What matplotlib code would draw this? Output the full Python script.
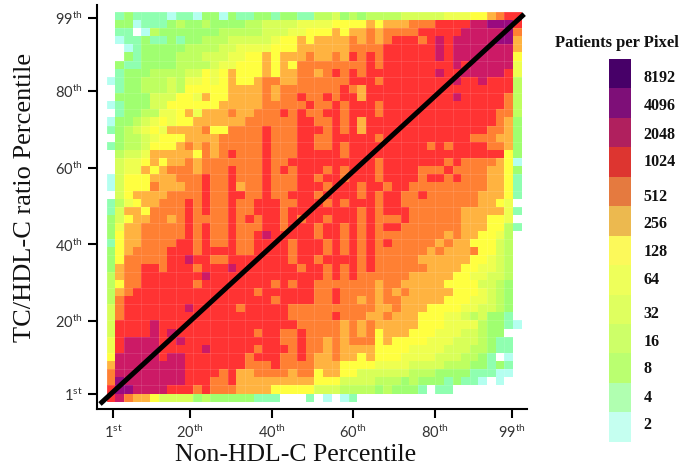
import numpy as np
import matplotlib
matplotlib.use("Agg")
import matplotlib.pyplot as plt
from matplotlib.colors import ListedColormap

plt.rcParams['mathtext.default'] = 'regular'

# one char per cell, top row first: . = empty, 1 = 2 patients ... d = 8192 patients
cell_rows = [
    ".2322221 22133132 23323322 44534344 44555556 667789aa",
    ".3312223 43343333 44555566 66777787 888999aa aabbccca",
    ".22.1433 33333444 44555667 77878898 9999aaaa abbbbbc9",
    ".1223223 23344455 55567787 88889898 9aaa9aba bbbbbcc8",
    "..123333 34444556 66677788 88889999 aaaaaaba bbbbbbb8",
    "..323333 44455566 77878889 8898a9a9 aaaaaaba bbbbbbb7",
    ".3223333 44445667 77878799 999999a9 aaaaaaaa babbbbb6",
    ".2333444 45576787 77878899 89a9a9aa aaaaaaba abbbbba6",
    "12334445 46676787 78998899 9999aaa9 aaaaaaaa baabaaa4",
    ".2334445 47777788 88989999 999a98aa aaaaaaaa aaaaaaa4",
    ".3333555 77687788 889899a9 9a9aa8aa aaaaaaaa baaaaa94",
    "12333557 77777888 8899999a 99a9aaa9 aaaaaaaa aaaaaa94",
    ".2334466 78688898 8999a9a9 9aa9aaa9 aaaaaaaa aaaaa994",
    "13345676 77888888 999999aa 99a9a8aa aaaaaaaa aaaaa983",
    "23456768 88897799 99a999aa a9a9a8aa aaaaaaaa aaaa9983",
    ".3445677 78888999 99a999aa 99aaaaa9 aaaaaaaa aa999883",
    "23445777 89898999 99a999aa 99a9aaaa aaaaa9a9 aaaa9983",
    ".4556888 887989a9 99a999aa aaa9aaaa aaaaaaaa aaaaaa73",
    ".5667878 89899999 99a99aaa aaaaaaa9 aaaaaaa9 a9999871",
    ".5668789 998999a9 99a9a9aa a9a9aaa9 aaaa999a 99998873",
    "15777888 999a99a9 99a999aa 9aa9aaa9 aaaa9aa9 a9998872",
    "15777988 899a99a8 99a999aa a9aaa9aa 9aa99999 99998872",
    ".5788889 999a99aa 99a99aaa 9aaaa9a9 aa99a999 99988872",
    "24678899 9a9a99a9 9aaa99aa a9a9aaa9 aa999999 9998876.",
    "25887999 9a9a99a9 9aaa9aaa aaaaa9a9 aaa99999 98888862",
    "35788998 9a9999a9 a9aa9a9a a9aaa9a9 99a99999 9888776.",
    "36889999 9a9a99a9 99aa9aaa 9aa9a9a9 aa999999 98887742",
    "37889999 9a9a99a9 9abaaaaa 9aa9a9a9 99999998 9887764.",
    "27889999 aa9a99a9 9aaaa9aa a9a9a9a9 a9999989 8877754.",
    "3789999a aa9aaaa9 9aaaa9aa a9a9a9a9 99999898 8897754.",
    "3799999a abaa99aa aaaaa9aa 9aaaa9a9 99998888 8877654.",
    "3899aa9a aa9aaaba aaaaaa9a a9a9a9a9 99999888 8776654.",
    "4899aaaa aaabaaaa aaaaaaaa a9a9a999 99988888 7766554.",
    "4799aaaa aa9aaaaa aaa9a9aa 99999998 99888887 7775543.",
    "489aaaaa aaaaaaaa a9aaaaaa 99a99998 98988888 7776543.",
    "49aaaaaa aaaaaaaa aaa9aaaa 99a99898 99888887 7766543.",
    "59aaaaaa abaaaaa9 aaaaa999 99999998 89888777 7665543.",
    "59aaaaaa aaaaaaaa aaaaa999 99a99988 98887776 6545332.",
    "5aaaabaa aaaaaaaa aaaaaa99 99989898 88887776 66643321",
    "5aaaabab aaaaaaaa a9aa99a9 99989897 88877766 655433..",
    "6abbbbaa baaaaaaa aaaa99a9 98989997 87777666 5554322.",
    "6abbbbaa aaabaaaa a9aaa9a9 98988887 77766665 5544322.",
    "7bbbbbab baaaaaaa 9aaa99a9 88988787 77666655 54432.1.",
    "8bbbbbbb baaaaaaa 999a9999 88877776 66655554 4433232.",
    "9bbbbbbb baaaa9a8 89999899 78877555 55544433 3322211.",
    "9cbbbbbb baaa99a8 88888888 77755554 44343332 3221.1..",
    "accbbbba aa9a9998 88877777 55544443 43332.22 ........",
    "ab988755 55343333 3222...2 .1.12... ........ ........",
]

level_labels = ["2", "4", "8", "16", "32", "64", "128", "256", "512", "1024", "2048", "4096", "8192"]
heat_colors = ["#b4fff0", "#8fffb0", "#a0ff70", "#beff60", "#d8ff58", "#eeff50", "#ffff40",
               "#ffb340", "#ff8033", "#ff3333", "#cc1a66", "#990a80", "#4b0066"]
bar_colors = ["#c5fff0", "#b0ffb0", "#baff70", "#cdff68", "#dfff5f", "#eeff5a", "#fcf95a",
              "#ecb94f", "#e57a3f", "#dd3530", "#b0205e", "#7e0f78", "#470068"]

tick_pcts = [1, 20, 40, 60, 80, 99]
tick_sups = ["st", "th", "th", "th", "th", "th"]
# heat map edges and the diagonal, in percentile units
x_edges = np.linspace(-0.55, 101.4, 49)
y_edges = np.linspace(100.6, -1.0, 49)
diag_x = [-2.2, 102.0]
diag_y = [-1.6, 100.0]

grid = []
for row in cell_rows:
    row = row.replace(" ", "")
    grid.append([np.nan if c == "." else int(c, 16) for c in row])
grid = np.array(grid, dtype=float)

W, H = 685, 472
fig = plt.figure(figsize=(W / 100, H / 100), dpi=100)
ax = fig.add_axes([97 / W, (H - 409) / H, 430 / W, 404 / H])
ax.pcolormesh(x_edges, y_edges, grid, cmap=ListedColormap(heat_colors), vmin=0.5, vmax=13.5)
# faint lines the original shows every second cell
ax.vlines(x_edges[::2], y_edges[-1], y_edges[0], color="white", lw=0.6, alpha=0.13)
ax.hlines(y_edges[::2], x_edges[0], x_edges[-1], color="white", lw=0.6, alpha=0.13)
ax.plot(diag_x, diag_y, color="black", lw=3.6, solid_capstyle="butt", clip_on=False)

ax.set_xlim(1 + (97 - 113) / 4.071, 1 + (527 - 113) / 4.071)
ax.set_ylim(1 + (394 - 409) / 3.837, 1 + (394 - 5) / 3.837)
for s in ["top", "right"]:
    ax.spines[s].set_visible(False)
for s in ["left", "bottom"]:
    ax.spines[s].set_linewidth(1.5)

labels = [f"{p}$^{{{s}}}$" for p, s in zip(tick_pcts, tick_sups)]
ax.set_xticks(tick_pcts)
ax.set_xticklabels(labels, family="Lato", fontsize=10.5, color="#333333")
ax.set_yticks(tick_pcts)
ax.set_yticklabels(labels, family="Lato", fontsize=10.5, color="#333333")
ax.tick_params(length=6.5, width=1.5, pad=4)

fig.text(296 / W, 1 - 455 / H, "Non-HDL-C Percentile", family="Liberation Serif", fontsize=18.5,
         ha="center", va="center", color="#111111")
fig.text(25 / W, 1 - 197 / H, "TC/HDL-C ratio Percentile", family="Liberation Serif", fontsize=19,
         rotation=90, ha="center", va="center", color="#111111")

# colour key
cax = fig.add_axes([609 / W, (H - 441.7) / H, 22 / W, 382.7 / H])
cax.pcolormesh([0, 1], np.arange(14), np.arange(13).reshape(-1, 1), cmap=ListedColormap(bar_colors))
cax.set_xticks([])
cax.yaxis.tick_right()
label_px = np.array([423, 396, 367, 340, 312, 278, 250, 222, 195, 160, 133, 104, 76])
cax.set_yticks((441.7 - label_px) / 382.7 * 13)
cax.set_yticklabels(level_labels, family="Liberation Serif", fontweight="bold", fontsize=11.5, color="#111111")
cax.tick_params(length=0, pad=9)
for s in cax.spines.values():
    s.set_visible(False)
fig.text(617 / W, 1 - 43 / H, "Patients per Pixel", family="Liberation Serif", fontweight="bold",
         fontsize=12, ha="center", va="center", color="#111111")

fig.savefig("out.png", dpi=100)
